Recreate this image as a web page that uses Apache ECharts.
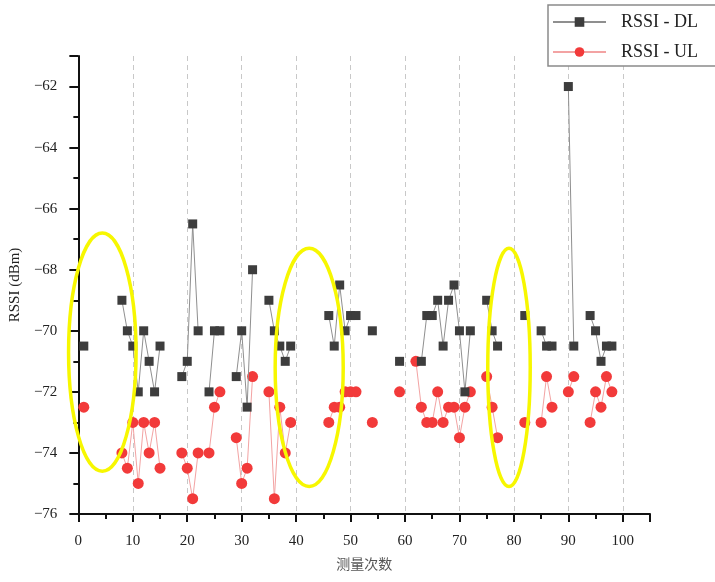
<!DOCTYPE html>
<html>
<head>
<meta charset="utf-8">
<script src="https://cdn.jsdelivr.net/npm/echarts@6/dist/echarts.min.js"></script>
<style>
html,body{margin:0;padding:0;background:#fff;}
#chart{width:715px;height:582px;}
</style>
</head>
<body>
<div id="chart"></div>
<script>
// Measurement indices and RSSI values (dBm)
const dlX = [1,8,9,10,11,12,13,14,15,19,20,21,22,24,25,26,29,30,31,32,35,36,37,38,39,46,47,48,49,50,51,54,59,63,64,65,66,67,68,69,70,71,72,75,76,77,82,85,86,87,90,91,94,95,96,97,98];
const dlY = [-70.5,-69,-70,-70.5,-72,-70,-71,-72,-70.5,-71.5,-71,-66.5,-70,-72,-70,-70,-71.5,-70,-72.5,-68,-69,-70,-70.5,-71,-70.5,-69.5,-70.5,-68.5,-70,-69.5,-69.5,-70,-71,-71,-69.5,-69.5,-69,-70.5,-69,-68.5,-70,-72,-70,-69,-70,-70.5,-69.5,-70,-70.5,-70.5,-62,-70.5,-69.5,-70,-71,-70.5,-70.5];

const ulX = [1,8,9,10,11,12,13,14,15,19,20,21,22,24,25,26,29,30,31,32,35,36,37,38,39,46,47,48,49,50,51,54,59,62,63,64,65,66,67,68,69,70,71,72,75,76,77,82,85,86,87,90,91,94,95,96,97,98];
const ulY = [-72.5,-74,-74.5,-73,-75,-73,-74,-73,-74.5,-74,-74.5,-75.5,-74,-74,-72.5,-72,-73.5,-75,-74.5,-71.5,-72,-75.5,-72.5,-74,-73,-73,-72.5,-72.5,-72,-72,-72,-73,-72,-71,-72.5,-73,-73,-72,-73,-72.5,-72.5,-73.5,-72.5,-72,-71.5,-72.5,-73.5,-73,-73,-71.5,-72.5,-72,-71.5,-73,-72,-72.5,-71.5,-72];

// Yellow highlight ellipses (data units: centre x, centre y, radius x, radius y)
const ellX  = [4.4, 42.4, 79.1];
const ellY  = [-70.7, -71.2, -71.2];
const ellRx = [6.2, 6.25, 3.9];
const ellRy = [3.9, 3.9, 3.9];

const xTicks = { min: 0, max: 105, interval: 10 };
const yTicks = { min: -76, max: -61, interval: 2 };

function withGaps(xs, ys) {
  const out = [];
  for (let i = 0; i < xs.length; i++) {
    if (i > 0 && xs[i] - xs[i-1] > 1) out.push([(xs[i] + xs[i-1]) / 2, '-']);
    out.push([xs[i], ys[i]]);
  }
  return out;
}

const serif = "'Liberation Serif','Noto Sans CJK SC',serif";
const chart = echarts.init(document.getElementById('chart'), null, {renderer:'canvas'});
chart.setOption({
  animation: false,
  backgroundColor: '#fff',
  grid: { left: 78, right: 65, top: 56, bottom: 68 },
  legend: {
    data: ['RSSI - DL', 'RSSI - UL'],
    orient: 'vertical',
    left: 548, top: 5,
    padding: [8, 18, 5, 4],
    itemGap: 12,
    itemWidth: 53, itemHeight: 12,
    borderColor: '#8a8a8a', borderWidth: 1.5,
    backgroundColor: '#fff',
    textStyle: { fontFamily: serif, fontSize: 18, color: '#222', padding: [0,0,0,10] },
    z: 20
  },
  xAxis: {
    type: 'value',
    min: xTicks.min, max: xTicks.max, interval: xTicks.interval,
    name: '测量次数', nameLocation: 'middle', nameGap: 44,
    nameTextStyle: { fontFamily: serif, fontSize: 14, color: '#555' },
    axisLine: { show: true, onZero: false, lineStyle: { color: '#111', width: 2 } },
    axisTick: { show: true, length: 8, lineStyle: { color: '#111', width: 2 } },
    minorTick: { show: true, splitNumber: 2, length: 5, lineStyle: { color: '#111', width: 2 } },
    axisLabel: { fontFamily: serif, fontSize: 15, color: '#222', margin: 20, showMaxLabel: false },
    splitLine: { show: true, showMinLine: false, showMaxLine: false, lineStyle: { color: '#c8c8c8', type: [5, 4], width: 1 } }
  },
  yAxis: {
    type: 'value',
    min: yTicks.min, max: yTicks.max, interval: yTicks.interval,
    name: 'RSSI (dBm)', nameLocation: 'middle', nameGap: 51,
    nameTextStyle: { fontFamily: serif, fontSize: 15, color: '#222' },
    axisLine: { show: true, onZero: false, lineStyle: { color: '#111', width: 2 } },
    axisTick: { show: true, length: 9, lineStyle: { color: '#111', width: 2 } },
    minorTick: { show: true, splitNumber: 2, length: 5, lineStyle: { color: '#111', width: 2 } },
    axisLabel: { fontFamily: serif, fontSize: 15, color: '#222', margin: 21, showMaxLabel: false,
      formatter: v => String(v).replace('-', '\u2212') },
    splitLine: { show: false }
  },
  series: [
    {
      name: 'RSSI - DL', type: 'line',
      data: withGaps(dlX, dlY),
      connectNulls: false,
      symbol: 'rect', symbolSize: 9,
      lineStyle: { color: '#8f8f8f', width: 1 },
      itemStyle: { color: '#3d3d3d' },
      z: 3
    },
    {
      name: 'RSSI - UL', type: 'line',
      data: withGaps(ulX, ulY),
      connectNulls: false,
      symbol: 'circle', symbolSize: 11,
      lineStyle: { color: '#f3a3a3', width: 1 },
      itemStyle: { color: '#f23a3a' },
      z: 2
    },
    {
      type: 'custom',
      data: ellX.map((x, i) => [x, ellY[i], ellRx[i], ellRy[i]]),
      clip: false,
      silent: true,
      z: 10,
      renderItem: function (params, api) {
        const c = api.coord([api.value(0), api.value(1)]);
        const s = api.size([api.value(2), api.value(3)]);
        return {
          type: 'ellipse',
          shape: { cx: c[0], cy: c[1], rx: s[0], ry: s[1] },
          style: { fill: 'none', stroke: '#f7f700', lineWidth: 3.5 }
        };
      }
    }
  ]
});
</script>
</body>
</html>
